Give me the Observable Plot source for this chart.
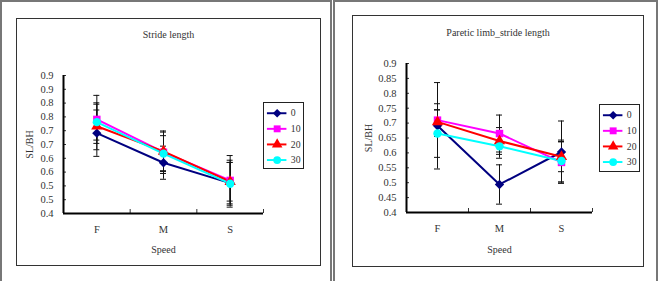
<!DOCTYPE html>
<html>
<head>
<meta charset="utf-8">
<script src="https://cdn.jsdelivr.net/npm/d3@7"></script>
<script src="https://cdn.jsdelivr.net/npm/@observablehq/plot@0.6"></script>
<style>
  body { margin: 0; background: #fff; }
  #page { position: relative; width: 660px; height: 281px; overflow: hidden; background: #fff; font-family: "Liberation Serif", serif; }
  #page svg, #page svg text { font-family: "Liberation Serif", serif !important; }
  .cell { position: absolute; border: 2px solid #777; box-sizing: border-box; }
  .box { position: absolute; border: 1px solid #333; box-sizing: border-box; }
  .legend { position: absolute; border: 1px solid #222; box-sizing: border-box; background: #fff; }
  .abs { position: absolute; }
  svg { overflow: visible; }
</style>
</head>
<body>
<div id="page"></div>
<script>
// Categories, series and tick values
const categories = ["F", "M", "S"];
const seriesNames = ["0", "10", "20", "30"];
const seriesColors = ["#000080", "#FF00FF", "#FF0000", "#00FFFF"];
const seriesSymbols = ["diamond2", "square", "triangle", "circle"];
const yTicks = [0.4, 0.45, 0.5, 0.55, 0.6, 0.65, 0.7, 0.75, 0.8, 0.85, 0.9];
const strideTickLabels = ["0.4", "0.5", "0.5", "0.6", "0.6", "0.7", "0.7", "0.8", "0.8", "0.9", "0.9"];
const pareticTickLabels = ["0.4", "0.45", "0.5", "0.55", "0.6", "0.65", "0.7", "0.75", "0.8", "0.85", "0.9"];

// Stride length (SL/BH): mean and SD per speed, one array per series
const strideMean0  = [0.691, 0.584, 0.510];
const strideMean10 = [0.741, 0.622, 0.520];
const strideMean20 = [0.716, 0.625, 0.515];
const strideMean30 = [0.731, 0.617, 0.508];
const strideSd0  = [0.084, 0.060, 0.075];
const strideSd10 = [0.087, 0.077, 0.090];
const strideSd20 = [0.085, 0.070, 0.070];
const strideSd30 = [0.065, 0.065, 0.085];

// Paretic limb stride length (SL/BH)
const pareticMean0  = [0.691, 0.494, 0.603];
const pareticMean10 = [0.710, 0.665, 0.568];
const pareticMean20 = [0.704, 0.640, 0.587];
const pareticMean30 = [0.665, 0.622, 0.573];
const pareticSd0  = [0.145, 0.066, 0.104];
const pareticSd10 = [0.055, 0.062, 0.070];
const pareticSd20 = [0.040, 0.045, 0.050];
const pareticSd30 = [0.080, 0.040, 0.070];

function toRows(means, sds) {
  return seriesNames.flatMap((s, si) =>
    categories.map((c, ci) => ({series: s, speed: c, pos: ci + 0.5, mean: means[si][ci], sd: sds[si][ci]}))
  );
}

const font = "'Liberation Serif', serif";

function chart({title, rows, tickLabels, width, height, ml, mr, mt, mb, titleDy, speedDy, ylabDx}) {
  const plotW = width - ml - mr;
  const capHalf = 3 * 3 / plotW; // 3px half-width caps, in x units (domain 0..3)
  return Plot.plot({
    width, height,
    marginLeft: ml, marginRight: mr, marginTop: mt, marginBottom: mb,
    style: {fontFamily: font, fontSize: "10px", color: "#333", background: "transparent"},
    x: {domain: [0, 3], axis: null, label: null},
    y: {domain: [0.4, 0.9], axis: null, label: null},
    color: {domain: seriesNames, range: seriesColors},
    symbol: {domain: seriesNames, range: seriesSymbols},
    marks: [
      // error bars
      Plot.ruleX(rows, {x: "pos", y1: d => d.mean - d.sd, y2: d => d.mean + d.sd, stroke: "#111", strokeWidth: 1}),
      Plot.ruleY(rows, {y: d => d.mean + d.sd, x1: d => d.pos - capHalf, x2: d => d.pos + capHalf, stroke: "#111", strokeWidth: 1}),
      Plot.ruleY(rows, {y: d => d.mean - d.sd, x1: d => d.pos - capHalf, x2: d => d.pos + capHalf, stroke: "#111", strokeWidth: 1}),
      // series lines and markers
      Plot.line(rows, {x: "pos", y: "mean", z: "series", stroke: "series", strokeWidth: 2}),
      Plot.dot(rows, {x: "pos", y: "mean", symbol: "series", fill: "series", r: 4.2}),
      // axes
      Plot.axisY(yTicks, {anchor: "left", tickSize: -3, tickPadding: 13, label: null, fontSize: 10.5,
        tickFormat: d => tickLabels[yTicks.indexOf(d)]}),
      Plot.axisX([1, 2, 3], {anchor: "bottom", tickSize: -4, label: null, tickFormat: () => ""}),
      Plot.axisX(categories.map((c, i) => i + 0.5), {anchor: "bottom", tickSize: 0, tickPadding: 12, label: null, fontSize: 10.5,
        tickFormat: d => categories[Math.floor(d)]}),
      Plot.ruleX([0], {y1: 0.4, y2: 0.9, stroke: "#000", strokeWidth: 2}),
      Plot.ruleY([0.4], {x1: 0, x2: 3, stroke: "#000", strokeWidth: 2}),
      // titles
      Plot.text([title], {frameAnchor: "top", lineAnchor: "middle", textAnchor: "middle", dx: (width / 2) - (ml + plotW / 2), dy: titleDy, fontSize: 10, fill: "#333"}),
      Plot.text(["Speed"], {frameAnchor: "bottom", lineAnchor: "middle", textAnchor: "middle", dy: speedDy, fontSize: 10, fill: "#333"}),
      Plot.text(["SL/BH"], {frameAnchor: "left", lineAnchor: "middle", textAnchor: "middle", rotate: -90, dx: ylabDx, fontSize: 10, fill: "#333"})
    ]
  });
}

function legend() {
  const items = seriesNames.map(s => ({series: s}));
  return Plot.plot({
    width: 40, height: 66, margin: 0,
    style: {fontFamily: font, fontSize: "10px", color: "#333", background: "transparent"},
    x: {domain: [0, 1], range: [3, 23], axis: null},
    y: {type: "point", domain: seriesNames, range: [9, 58], padding: 0, axis: null},
    color: {domain: seriesNames, range: seriesColors},
    symbol: {domain: seriesNames, range: seriesSymbols},
    marks: [
      Plot.ruleY(items, {y: "series", x1: 0, x2: 1, stroke: "series", strokeWidth: 2}),
      Plot.dot(items, {x: 0.5, y: "series", symbol: "series", fill: "series", r: 4}),
      Plot.text(items, {x: 1, y: "series", text: "series", textAnchor: "start", dx: 4, fill: "#333"})
    ]
  });
}

function place(el, cls, left, top, w, h) {
  const d = document.createElement("div");
  d.className = cls;
  d.style.left = left + "px";
  d.style.top = top + "px";
  if (w != null) d.style.width = w + "px";
  if (h != null) d.style.height = h + "px";
  if (el) d.appendChild(el);
  document.getElementById("page").appendChild(d);
  return d;
}

// outer table cells
place(null, "cell", 0, 0, 332, 300);
place(null, "cell", 333, 0, 325, 300);

// left chart: Stride length
place(null, "box", 16, 18, 305, 248);
place(chart({
  title: "Stride length", rows: toRows([strideMean0, strideMean10, strideMean20, strideMean30], [strideSd0, strideSd10, strideSd20, strideSd30]),
  tickLabels: strideTickLabels, width: 304, height: 247, ml: 47, mr: 57, mt: 57, mb: 52,
  titleDy: -41, speedDy: 36, ylabDx: -34
}), "abs", 16, 18);
place(legend(), "legend", 263, 102, 41, 67);

// right chart: Paretic limb stride length
place(null, "box", 352, 15, 292, 252);
place(chart({
  title: "Paretic limb_stride length", rows: toRows([pareticMean0, pareticMean10, pareticMean20, pareticMean30], [pareticSd0, pareticSd10, pareticSd20, pareticSd30]),
  tickLabels: pareticTickLabels, width: 291, height: 252, ml: 54, mr: 51, mt: 48, mb: 55,
  titleDy: -31, speedDy: 37, ylabDx: -38
}), "abs", 352, 15);
place(legend(), "legend", 599, 104, 41, 68);
</script>
</body>
</html>
